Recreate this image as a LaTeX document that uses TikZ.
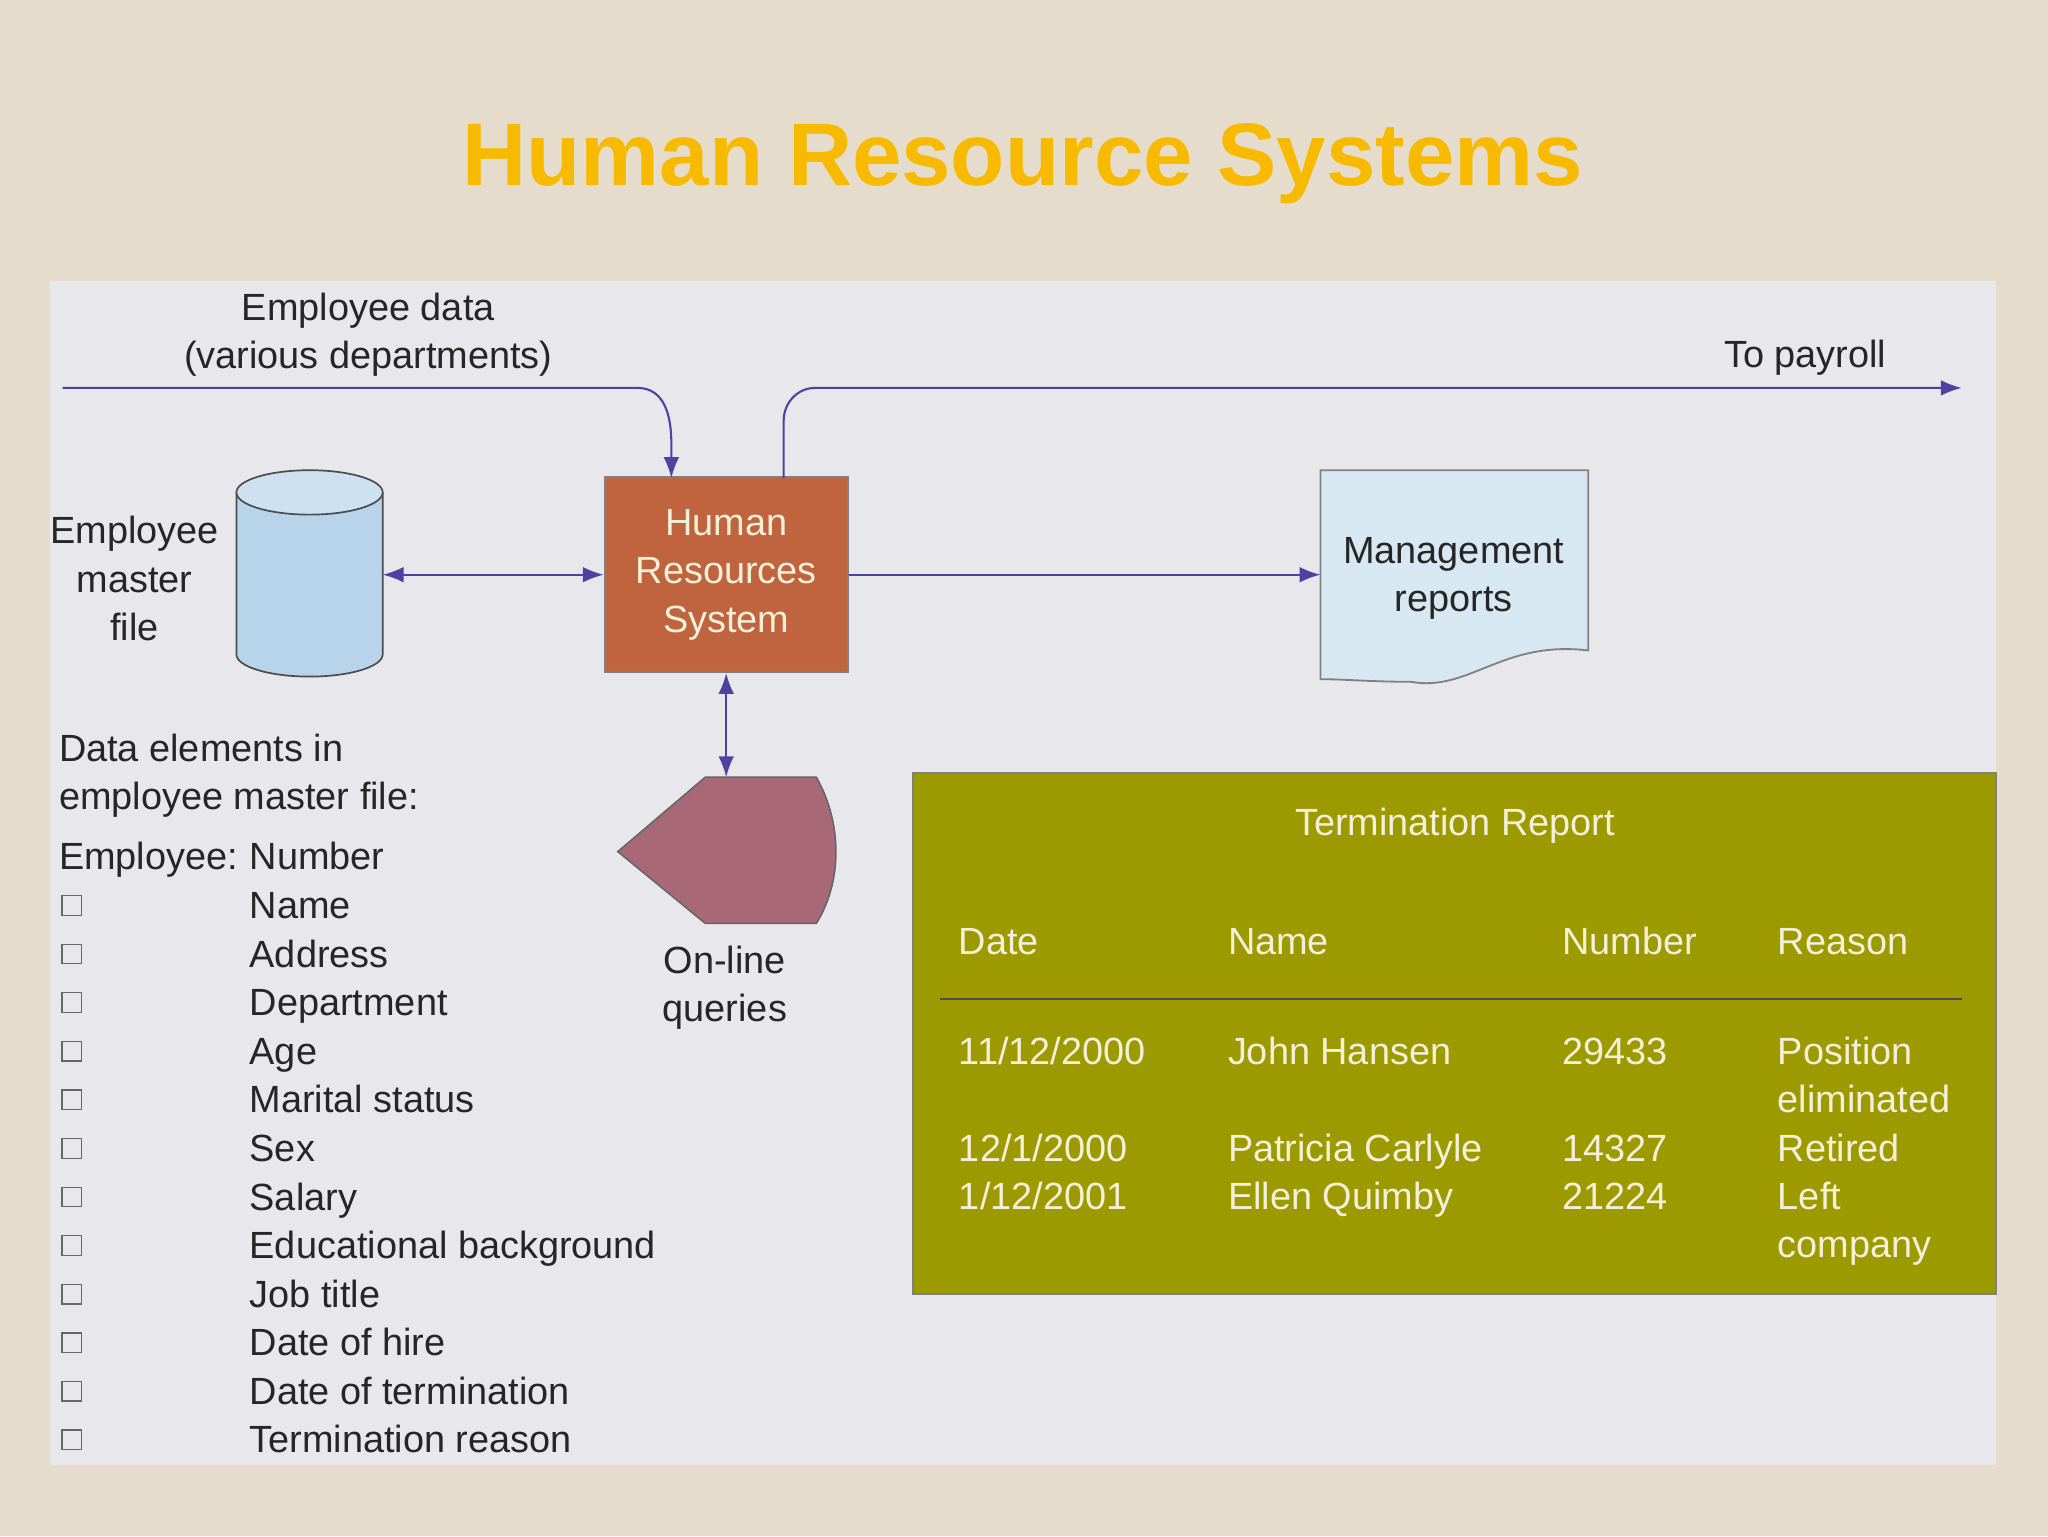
\documentclass[tikz,border=0pt]{standalone}
\usepackage{fontspec}
\setmainfont{Liberation Sans}
\usetikzlibrary{arrows.meta,shapes.geometric}
\definecolor{bg}{HTML}{E6DCCB}
\definecolor{panel}{HTML}{E8E8EC}
\definecolor{ttl}{HTML}{F7BA00}
\definecolor{ln}{HTML}{5040A0}
\definecolor{hrs}{HTML}{C0643F}
\definecolor{cyl}{HTML}{B8D4EA}
\definecolor{doc}{HTML}{D8E8F2}
\definecolor{disp}{HTML}{A86878}
\definecolor{olive}{HTML}{9C9A00}
\definecolor{otxt}{HTML}{F2F0D8}
\tikzset{
 txt/.style={font=\fontsize{29}{37}\selectfont, text=black!85, inner sep=0pt},
 ltx/.style={txt, anchor=base west},
 otx/.style={font=\fontsize{29}{37}\selectfont, text=otxt, inner sep=0pt, anchor=base west},
 con/.style={draw=ln, line width=1.6pt, -{Latex[length=16pt,width=12pt]}},
 dcon/.style={draw=ln, line width=1.6pt, {Latex[length=16pt,width=12pt]}-{Latex[length=16pt,width=12pt]}},
 chk/.style={draw=black!60, line width=1pt, minimum size=15pt, inner sep=0pt},
}
\begin{document}
\begin{tikzpicture}[x=1pt,y=-1pt]
\fill[bg] (0,0) rectangle (1568,1176);
\useasboundingbox (0,0) rectangle (1568,1176);
\fill[panel] (38,215) rectangle (1528,1122);
\node[font=\fontsize{68}{80}\selectfont\bfseries, text=ttl] (title) at (783,125) {Human Resource Systems};
% employee data
\node[txt, align=center] (ed) at (282,256) {Employee data\\(various departments)};
\coordinate (edin) at (48,297);
\node[draw=gray, line width=1.5pt, fill=hrs, minimum width=186pt, minimum height=149pt, align=center,
 font=\fontsize{29}{37}\selectfont, text=otxt] (hrs) at (556,440) {Human\\Resources\\System};
\draw[con] (edin) -- (488,297) to[out=0,in=90] (514,366);
\coordinate (pay) at (1502,297);
\draw[con] (600,366) -- (600,322) to[out=90,in=180] (624,297) -- (pay);
\node[txt] (tp) at (1382,274) {To payroll};
% cylinder
\coordinate (cyl) at (237,440);
\draw[draw=black!70, line width=1.3pt, fill=cyl] (181,377) -- (181,501) arc[start angle=180,end angle=0,x radius=56,y radius=17] -- (293,377);
\draw[draw=black!70, line width=1.3pt, fill=cyl!70!white] (237,377) ellipse[x radius=56,y radius=17];
\node[txt, align=center] (emf) at (103,443) {Employee\\master\\file};
\draw[dcon] (293,440) -- (hrs.west);
% document
\draw[draw=gray, line width=1.4pt, fill=doc] (1011,360) -- (1216,360) -- (1216,498)
 .. controls (1150,490) and (1125,530) .. (1080,522) .. controls (1050,522) and (1030,520) .. (1011,520) -- cycle;
\node[txt, align=center] (mrt) at (1113,443) {Management\\reports};
\draw[con] (hrs.east) -- (1011,440);
% display
\draw[draw=black!60, line width=1.2pt, fill=disp] (473,652) -- (540,595) -- (625,595)
 .. controls (645,630) and (645,675) .. (625,707) -- (540,707) -- cycle;
\coordinate (dtop) at (556,595);
\draw[dcon] (hrs.south) -- (dtop);
\node[txt, align=center] (olq) at (555,756) {On-line\\queries};
% data elements
\node[ltx] (de) at (45,583) {Data elements in};
\node[ltx] (de2) at (45,620) {employee master file:};
\node[ltx] (en) at (45,666) {Employee:};
\node[ltx] (num) at (191,666) {Number};
\foreach \t [count=\i] in {Name,Address,Department,Age,Marital status,Sex,Salary,Educational background,Job title,Date of hire,Date of termination,Termination reason}{
  \node[chk] (c\i) at (55,{656+37.2*\i}) {};
  \node[ltx] (t\i) at (191,{666+37.2*\i}) {\t};
}
% termination report
\node[draw=gray, line width=1.5pt, fill=olive, minimum width=829pt, minimum height=399pt] (tr) at (1113.5,791.5) {};
\node[otx, anchor=base] (trt) at (1114,640) {Termination Report};
\node[otx] (h1) at (734,731) {Date};
\node[otx] (h2) at (940,731) {Name};
\node[otx] (h3) at (1196,731) {Number};
\node[otx] (h4) at (1361,731) {Reason};
\draw[black!70, line width=1.5pt] (720,765) -- (1502,765);
\node[otx] at (734,815) {11/12/2000};
\node[otx] at (940,815) {John Hansen};
\node[otx] at (1196,815) {29433};
\node[otx] at (1361,815) {Position};
\node[otx] at (1361,852) {eliminated};
\node[otx] at (734,889) {12/1/2000};
\node[otx] at (940,889) {Patricia Carlyle};
\node[otx] at (1196,889) {14327};
\node[otx] at (1361,889) {Retired};
\node[otx] at (734,926) {1/12/2001};
\node[otx] at (940,926) {Ellen Quimby};
\node[otx] at (1196,926) {21224};
\node[otx] at (1361,926) {Left};
\node[otx] at (1361,963) {company};
\end{tikzpicture}
\end{document}
